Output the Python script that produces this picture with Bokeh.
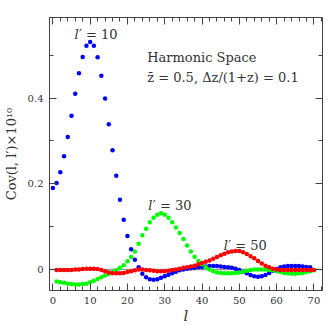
from bokeh.plotting import figure
from bokeh.models import LinearAxis, FixedTicker, Span, Label, Range1d, CustomLabelingPolicy
from bokeh.embed import file_html
from bokeh.resources import INLINE

# ---------------- data ----------------
l_blue = list(range(0, 70))
cov_blue = [0.190, 0.202, 0.227, 0.264, 0.309, 0.359, 0.410, 0.458, 0.496, 0.522,
            0.531, 0.522, 0.495, 0.452, 0.399, 0.339, 0.278, 0.219, 0.163, 0.116,
            0.078, 0.047, 0.023, 0.005, -0.010, -0.018, -0.023, -0.024, -0.023, -0.019,
            -0.016, -0.012, -0.009, -0.005, -0.002, 0.000, 0.002, 0.003, 0.004, 0.005,
            0.006, 0.007, 0.008, 0.008, 0.008, 0.007, 0.006, 0.005, 0.004, 0.002,
            -0.001, -0.005, -0.009, -0.013, -0.016, -0.017, -0.016, -0.013, -0.008, -0.003,
            0.001, 0.005, 0.007, 0.008, 0.008, 0.008, 0.008, 0.007, 0.006, 0.005]

l_green = list(range(1, 71))
cov_green = [-0.028, -0.030, -0.031, -0.033, -0.034, -0.035, -0.035, -0.034, -0.033, -0.030,
             -0.026, -0.022, -0.018, -0.014, -0.010, -0.006, -0.002, 0.004, 0.010, 0.019,
             0.029, 0.042, 0.060, 0.080, 0.095, 0.110, 0.121, 0.128, 0.131, 0.128,
             0.121, 0.110, 0.098, 0.085, 0.071, 0.056, 0.042, 0.030, 0.020, 0.012,
             0.005, 0.000, -0.004, -0.007, -0.008, -0.009, -0.009, -0.009, -0.008, -0.007,
             -0.005, -0.003, -0.001, 0.000, 0.000, 0.000, 0.000, -0.001, -0.002, -0.004,
             -0.006, -0.008, -0.009, -0.010, -0.010, -0.009, -0.008, -0.006, -0.004, -0.002]

l_red = list(range(1, 71))
cov_red = [-0.001, -0.001, -0.001, -0.001, -0.001, 0.000, 0.000, 0.001, 0.002, 0.002,
           0.002, 0.001, -0.001, -0.004, -0.007, -0.009, -0.009, -0.009, -0.008, -0.006,
           -0.004, -0.002, 0.000, 0.000, -0.001, -0.002, -0.003, -0.004, -0.004, -0.004,
           -0.003, -0.001, 0.000, 0.002, 0.004, 0.005, 0.007, 0.009, 0.012, 0.015,
           0.018, 0.021, 0.025, 0.029, 0.033, 0.037, 0.040, 0.042, 0.043, 0.043,
           0.040, 0.036, 0.031, 0.026, 0.020, 0.014, 0.009, 0.005, 0.002, 0.000,
           -0.001, -0.001, -0.001, -0.001, -0.001, -0.001, -0.001, -0.001, -0.001, -0.001]

x_major = [0, 10, 20, 30, 40, 50, 60, 70]
x_minor = list(range(0, 73, 2))
y_major = [0, 0.2, 0.4]
y_minor = [0.1, 0.3, 0.5]
y_labels = {0: "0", 0.2: "0.2", 0.4: "0.4"}

FONT = "DejaVu Serif"
TXT = "#333333"
AX = "#444444"

p = figure(frame_width=273, frame_height=273, output_backend="svg", toolbar_location=None,
           x_range=Range1d(-0.9, 72.3), y_range=Range1d(-0.049, 0.588),
           min_border_left=49, min_border_right=8, min_border_top=17, min_border_bottom=33)
p.grid.visible = False
p.outline_line_color = None
p.background_fill_color = "white"

hide_all = CustomLabelingPolicy(code="for (const i of indices) { indices.unset(i) }\nreturn indices")


def style_axis(ax, ticks, minor, show_labels):
    ax.ticker = FixedTicker(ticks=ticks, minor_ticks=minor)
    ax.axis_line_color = AX
    ax.axis_line_width = 1
    ax.major_tick_line_color = AX
    ax.minor_tick_line_color = AX
    ax.major_tick_in = 7
    ax.major_tick_out = 0
    ax.minor_tick_in = 4
    ax.minor_tick_out = 0
    ax.major_label_text_font = FONT
    ax.major_label_text_color = TXT
    if show_labels:
        ax.major_label_text_font_size = "10px"
        ax.major_label_standoff = 6
    else:
        ax.major_label_text_font_size = "1px"
        ax.major_label_standoff = 0
        ax.major_label_policy = hide_all


xb = p.xaxis[0]
style_axis(xb, x_major, x_minor, True)
xb.axis_label = "l"
xb.axis_label_text_font = FONT
xb.axis_label_text_font_style = "italic"
xb.axis_label_text_font_size = "15px"
xb.axis_label_text_color = TXT
xb.axis_label_standoff = 0

yl = p.yaxis[0]
style_axis(yl, y_major, y_minor, True)
yl.major_label_overrides = y_labels
yl.axis_label = "Cov(l, l\u2032)\u00d710\u00b9\u2070"
yl.axis_label_text_font = FONT
yl.axis_label_text_font_style = "normal"
yl.axis_label_text_font_size = "13px"
yl.axis_label_text_color = TXT
yl.axis_label_standoff = 6

xt = LinearAxis()
style_axis(xt, x_major, x_minor, False)
p.add_layout(xt, "above")
yr = LinearAxis()
style_axis(yr, y_major, y_minor, False)
p.add_layout(yr, "right")

p.add_layout(Span(location=0, dimension="width", line_color="#9a9a9a",
                  line_width=1.5, level="underlay"))

p.scatter(l_blue, cov_blue, size=4.5, color="#0000ff", line_color=None)
p.scatter(l_green, cov_green, size=4.5, color="#00ff00", line_color=None)
p.scatter(l_red, cov_red, size=4.5, color="#ff0000", line_color=None)


def lprime(x, y, rest):
    p.add_layout(Label(x=x, y=y, text="l", text_font=FONT, text_font_style="italic",
                       text_font_size="13px", text_color=TXT, text_baseline="alphabetic"))
    p.add_layout(Label(x=x, y=y, x_offset=4.5, text="\u2032 = " + rest, text_font=FONT,
                       text_font_size="13px", text_color=TXT, text_baseline="alphabetic"))


lprime(5.8, 0.548, "10")
lprime(25.6, 0.149, "30")
lprime(45.8, 0.056, "50")

p.add_layout(Label(x=25.3, y=0.4955, text="Harmonic Space", text_font=FONT,
                   text_font_size="13px", text_color=TXT, text_baseline="alphabetic"))
p.add_layout(Label(x=25.3, y=0.447, text="z\u0304 = 0.5, \u0394z/(1+z) = 0.1", text_font=FONT,
                   text_font_size="13px", text_color=TXT, text_baseline="alphabetic"))

open("out.html", "w").write(file_html(p, INLINE))
